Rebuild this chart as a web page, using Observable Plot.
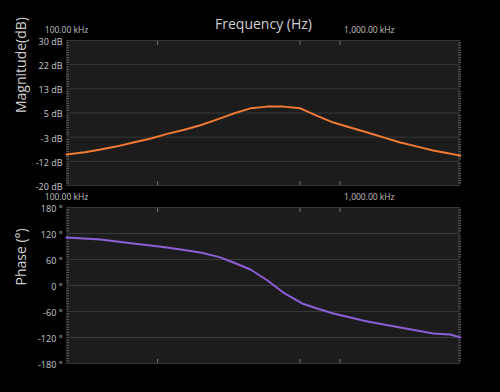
<!DOCTYPE html>
<html>
<head>
<meta charset="utf-8">
<script src="https://cdn.jsdelivr.net/npm/d3@7"></script>
<script src="https://cdn.jsdelivr.net/npm/@observablehq/plot@0.6"></script>
<style>
  html, body { margin: 0; padding: 0; background: #000; }
  #c { position: relative; width: 500px; height: 392px; }
  #c svg { display: block; position: absolute; left: 0; }
</style>
</head>
<body>
<div id="c"></div>
<script>
// Frequency in kHz
const magFreq = [100, 115, 129.5, 147, 166, 190, 215, 245, 277, 315, 356, 405, 461, 520, 592, 670, 761, 870, 985, 1120, 1266, 1440, 1626, 1800, 2000];
const magDb   = [-9.3, -8.5, -7.6, -6.5, -5.2, -3.8, -2.2, -0.8, 0.8, 2.8, 4.8, 6.6, 7.2, 7.2, 6.6, 4.1, 1.7, -0.1, -1.7, -3.5, -5.2, -6.6, -7.9, -8.8, -9.7];
const phFreq  = [100, 129.5, 166, 215, 277, 320, 356, 405, 461, 520, 600, 628, 672, 761, 985, 1266, 1626, 1850, 2000];
const phDeg   = [110.8, 106.2, 96.9, 87.7, 76.2, 65.5, 53.1, 36.9, 11.5, -16.2, -41.5, -46.2, -53.1, -64.6, -83.1, -96.9, -110.8, -113.1, -120];
const freqLabelTicks = [100, 1000];
const freqMarkTicks = [200, 590, 800];
const magTicks = [-20, -11.6667, -3.3333, 5, 13.3333, 21.6667, 30];
const phTicks = [-180, -120, -60, 0, 60, 120, 180];

const magData = magFreq.map((f, i) => ({f, v: magDb[i]}));
const phData = phFreq.map((f, i) => ({f, v: phDeg[i]}));

const font = "'Open Sans', 'DejaVu Sans', sans-serif";
const fmtFreq = d => d3.format(",.2f")(d) + " kHz";

function minorOf(ticks) {
  const out = [];
  for (let i = 0; i < ticks.length - 1; i++) {
    const a = ticks[i], b = ticks[i + 1];
    for (let k = 1; k < 10; k++) out.push(a + (b - a) * k / 10);
  }
  return out;
}

function panel({data, ticks, domain, fmt, color, label, height, marginTop, marginBottom, title, bg}) {
  const minor = minorOf(ticks);
  const marks = [
    Plot.frame({fill: "#1c1c1c", stroke: null}),
    Plot.gridY(ticks, {stroke: "#383838", strokeOpacity: 1}),
    Plot.axisY(minor, {anchor: "left", tickSize: -3, text: null, stroke: "#5a5a5a", label: null}),
    Plot.axisY(minor, {anchor: "right", tickSize: -3, text: null, stroke: "#5a5a5a", label: null}),
    Plot.axisY(ticks, {anchor: "left", tickSize: 0, tickPadding: 4, dy: 1.5, tickFormat: fmt, fill: "#c8c8c8", fontSize: 9, label: null}),
    Plot.axisX(freqLabelTicks, {anchor: "top", tickSize: 0, tickPadding: 8, tickFormat: fmtFreq, fill: "#c0c0c0", fontSize: 8.5, label: null}),
    Plot.axisX(freqMarkTicks, {anchor: "top", tickSize: -4, text: null, stroke: "#777", label: null}),
    Plot.axisX(freqMarkTicks, {anchor: "bottom", tickSize: -4, text: null, stroke: "#777", label: null}),
    Plot.line(data, {x: "f", y: "v", stroke: color, strokeWidth: 2, curve: "linear"}),
    Plot.text([label], {frameAnchor: "left", rotate: -90, dx: -45, fill: "#cfcfcf", fontSize: 14, fontFamily: font})
  ];
  if (title) marks.push(Plot.text([title], {frameAnchor: "top", dy: -21, fill: "#d0d0d0", fontSize: 14, fontFamily: font}));
  return Plot.plot({
    width: 500,
    height,
    marginLeft: 66,
    marginRight: 40,
    marginTop,
    marginBottom,
    style: {background: bg, fontFamily: font, color: "#c8c8c8"},
    x: {type: "log", domain: [100, 2000]},
    y: {domain},
    marks
  });
}

const magChart = panel({
  data: magData, ticks: magTicks, domain: [-20, 30],
  fmt: d => Math.round(d) + " dB", color: "#f27a34", label: "Magnitude(dB)",
  height: 196, marginTop: 40, marginBottom: 11, title: "Frequency (Hz)", bg: "#000"
});
const phaseChart = panel({
  data: phData, ticks: phTicks, domain: [-180, 180],
  fmt: d => d + " °", color: "#8c5fd6", label: "Phase (°)",
  height: 218, marginTop: 33, marginBottom: 29, bg: "transparent"
});
magChart.style.top = "0px";
phaseChart.style.top = "174px";
document.getElementById("c").append(magChart, phaseChart);
</script>
</body>
</html>
